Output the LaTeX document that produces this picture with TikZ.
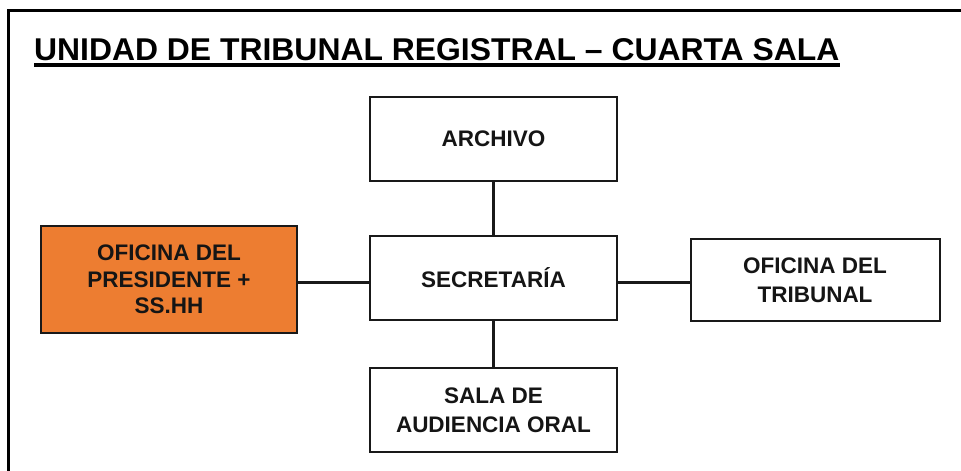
\documentclass[tikz,border=0pt]{standalone}
\usepackage{fontspec}
\setmainfont{Liberation Sans}
\usetikzlibrary{calc}
\definecolor{orangebox}{HTML}{ED7D31}
\definecolor{txt}{HTML}{151515}
\begin{document}
\begin{tikzpicture}[x=1pt,y=-1pt,
  unit/.style={draw=black!90,line width=2pt,minimum width=247pt,minimum height=84pt,
    align=center,font=\fontsize{22.5}{29}\selectfont\bfseries,text=txt,inner sep=0pt},
  conn/.style={line width=3pt,draw=black!90}]
\useasboundingbox (0,0) rectangle (961,471);
\fill[white] (0,0) rectangle (961,471);
% frame
\draw[line width=3pt] (961,10.5) -- (8.5,10.5) -- (8.5,471);
% title
\node[anchor=base west,inner sep=0pt,xscale=1.012,font=\fontsize{31.5}{36}\selectfont\bfseries] (title) at (34,60)
  {UNIDAD DE TRIBUNAL REGISTRAL – CUARTA SALA};
\draw[line width=4pt] ($(title.base west)+(0,4.5)$) -- ($(title.base east)+(0,4.5)$);
% boxes
\node[unit] (arch) at (493.5,139) {ARCHIVO};
\node[unit] (sec) at (493.5,278) {SECRETARÍA};
\node[unit] (sala) at (493.5,410) {SALA DE\\AUDIENCIA ORAL};
\node[unit,fill=orangebox,minimum width=256pt,minimum height=107pt,
  font=\fontsize{22.5}{26.5}\selectfont\bfseries] (pres) at (169,279.5) {OFICINA DEL\\PRESIDENTE +\\SS.HH};
\node[unit,minimum width=249pt,minimum height=82pt] (trib) at (815,280) {OFICINA DEL\\TRIBUNAL};
% connectors
\draw[conn] (arch.south) -- (sec.north);
\draw[conn] (sec.south) -- (sala.north);
\draw[conn] (pres.east |- 0,282) -- (sec.west |- 0,282);
\draw[conn] (sec.east |- 0,282) -- (trib.west |- 0,282);
\end{tikzpicture}
\end{document}
